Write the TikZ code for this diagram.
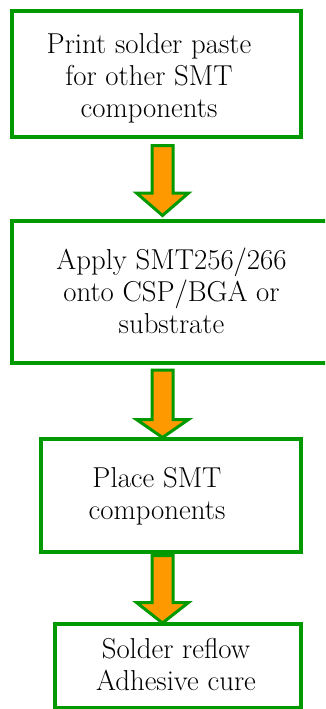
\documentclass[tikz,border=0pt]{standalone}
\usetikzlibrary{calc}
\definecolor{boxgreen}{RGB}{0,153,0}
\definecolor{arroworange}{RGB}{255,153,0}
\tikzset{
  stepbox/.style={draw=boxgreen, line width=4pt, rectangle, inner sep=0pt},
  steptext/.style={align=center, font=\rmfamily\fontsize{28.8}{32}\selectfont, inner sep=0pt},
  blockarrow/.style={draw=boxgreen, fill=arroworange, line width=3pt, line join=miter},
}
% #1 start coordinate (top centre of shaft), #2 tip coordinate, #3 head length
\newcommand{\drawblockarrow}[3]{%
  \draw[blockarrow] let \p1=(#1), \p2=(#2) in
    (\x1-10.5pt,\y1) -- (\x1+10.5pt,\y1) -- (\x1+10.5pt,\y2+#3) --
    (\x1+26pt,\y2+#3) -- (\x2,\y2) -- (\x1-26pt,\y2+#3) --
    (\x1-10.5pt,\y2+#3) -- cycle;}
\begin{document}
\begin{tikzpicture}[x=1pt,y=-1pt]
\useasboundingbox (0,0) rectangle (325,709);
\clip (0,0) rectangle (325,709);
% boxes
\node[stepbox, minimum width=289pt, minimum height=126pt] (b1) at (156.5,74) {};
\node[stepbox, minimum width=318pt, minimum height=142pt] (b2) at (171,291.5) {};
\node[stepbox, minimum width=259.5pt, minimum height=113pt] (b3) at (170.75,495.5) {};
\node[stepbox, minimum width=245.5pt, minimum height=84.5pt] (b4) at (177.75,665.75) {};
% texts
\node[steptext] (t1) at (149,78.25) {Print solder paste\\for other SMT\\components};
\node[steptext] (t2) at (171.5,291.1) {Apply SMT256/266\\onto CSP/BGA or\\substrate};
\node[steptext] (t3) at (157,496.25) {Place SMT\\components};
\node[steptext] (t4) at (176,664.1) {Solder reflow\\Adhesive cure};
% arrows
\coordinate (ax) at (162.5,0);
\coordinate (a1s) at ([yshift=-6.5pt]b1.south -| ax);
\coordinate (a1t) at ([yshift=3pt]b2.north -| ax);
\coordinate (a2s) at ([yshift=-5.7pt]b2.south -| ax);
\coordinate (a2t) at ([yshift=-0.5pt]b3.north -| ax);
\coordinate (a3s) at ([yshift=-1.5pt]b3.south -| ax);
\coordinate (a3t) at ([yshift=-1.5pt]b4.north -| ax);
\drawblockarrow{a1s}{a1t}{22.5pt}
\drawblockarrow{a2s}{a2t}{18pt}
\drawblockarrow{a3s}{a3t}{20.5pt}
\end{tikzpicture}
\end{document}
